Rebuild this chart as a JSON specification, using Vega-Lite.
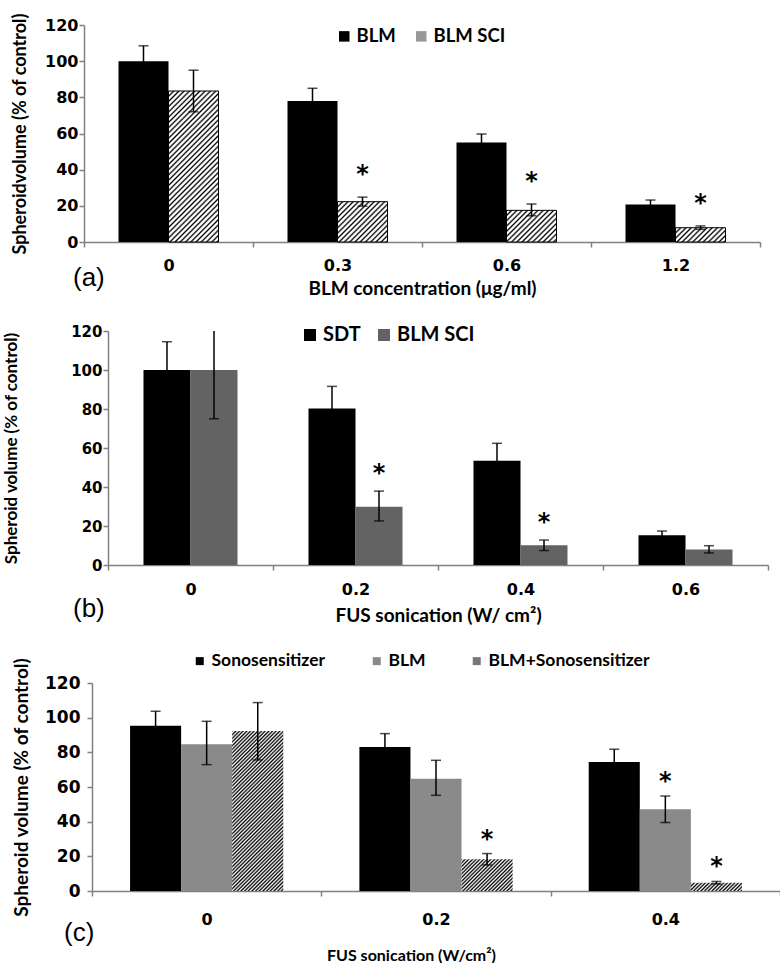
{
  "$schema": "https://vega.github.io/schema/vega-lite/v6.json",
  "padding": {"left": 2, "top": 11, "right": 0, "bottom": 0},
  "columns": 1,
  "align": "each",
  "spacing": -6,
  "resolve": {"scale": {"x": "independent", "y": "independent", "xOffset": "independent", "fill": "independent"}, "legend": {"fill": "independent"}, "axis": {"x": "independent", "y": "independent"}},
  "params": [
    {"name": "hatchA", "value": [
      {"offset":0,"color":"#000"},{"offset":0.00875,"color":"#fff"},{"offset":0.01625,"color":"#fff"},
      {"offset":0.025,"color":"#000"},{"offset":0.03375,"color":"#fff"},{"offset":0.04125,"color":"#fff"},
      {"offset":0.05,"color":"#000"},{"offset":0.05875,"color":"#fff"},{"offset":0.06625,"color":"#fff"},
      {"offset":0.075,"color":"#000"},{"offset":0.08375,"color":"#fff"},{"offset":0.09125,"color":"#fff"},
      {"offset":0.1,"color":"#000"},{"offset":0.10875,"color":"#fff"},{"offset":0.11625,"color":"#fff"},
      {"offset":0.125,"color":"#000"},{"offset":0.13375,"color":"#fff"},{"offset":0.14125,"color":"#fff"},
      {"offset":0.15,"color":"#000"},{"offset":0.15875,"color":"#fff"},{"offset":0.16625,"color":"#fff"},
      {"offset":0.175,"color":"#000"},{"offset":0.18375,"color":"#fff"},{"offset":0.19125,"color":"#fff"},
      {"offset":0.2,"color":"#000"},{"offset":0.20875,"color":"#fff"},{"offset":0.21625,"color":"#fff"},
      {"offset":0.225,"color":"#000"},{"offset":0.23375,"color":"#fff"},{"offset":0.24125,"color":"#fff"},
      {"offset":0.25,"color":"#000"},{"offset":0.25875,"color":"#fff"},{"offset":0.26625,"color":"#fff"},
      {"offset":0.275,"color":"#000"},{"offset":0.28375,"color":"#fff"},{"offset":0.29125,"color":"#fff"},
      {"offset":0.3,"color":"#000"},{"offset":0.30875,"color":"#fff"},{"offset":0.31625,"color":"#fff"},
      {"offset":0.325,"color":"#000"},{"offset":0.33375,"color":"#fff"},{"offset":0.34125,"color":"#fff"},
      {"offset":0.35,"color":"#000"},{"offset":0.35875,"color":"#fff"},{"offset":0.36625,"color":"#fff"},
      {"offset":0.375,"color":"#000"},{"offset":0.38375,"color":"#fff"},{"offset":0.39125,"color":"#fff"},
      {"offset":0.4,"color":"#000"},{"offset":0.40875,"color":"#fff"},{"offset":0.41625,"color":"#fff"},
      {"offset":0.425,"color":"#000"},{"offset":0.43375,"color":"#fff"},{"offset":0.44125,"color":"#fff"},
      {"offset":0.45,"color":"#000"},{"offset":0.45875,"color":"#fff"},{"offset":0.46625,"color":"#fff"},
      {"offset":0.475,"color":"#000"},{"offset":0.48375,"color":"#fff"},{"offset":0.49125,"color":"#fff"},
      {"offset":0.5,"color":"#000"},{"offset":0.50875,"color":"#fff"},{"offset":0.51625,"color":"#fff"},
      {"offset":0.525,"color":"#000"},{"offset":0.53375,"color":"#fff"},{"offset":0.54125,"color":"#fff"},
      {"offset":0.55,"color":"#000"},{"offset":0.55875,"color":"#fff"},{"offset":0.56625,"color":"#fff"},
      {"offset":0.575,"color":"#000"},{"offset":0.58375,"color":"#fff"},{"offset":0.59125,"color":"#fff"},
      {"offset":0.6,"color":"#000"},{"offset":0.60875,"color":"#fff"},{"offset":0.61625,"color":"#fff"},
      {"offset":0.625,"color":"#000"},{"offset":0.63375,"color":"#fff"},{"offset":0.64125,"color":"#fff"},
      {"offset":0.65,"color":"#000"},{"offset":0.65875,"color":"#fff"},{"offset":0.66625,"color":"#fff"},
      {"offset":0.675,"color":"#000"},{"offset":0.68375,"color":"#fff"},{"offset":0.69125,"color":"#fff"},
      {"offset":0.7,"color":"#000"},{"offset":0.70875,"color":"#fff"},{"offset":0.71625,"color":"#fff"},
      {"offset":0.725,"color":"#000"},{"offset":0.73375,"color":"#fff"},{"offset":0.74125,"color":"#fff"},
      {"offset":0.75,"color":"#000"},{"offset":0.75875,"color":"#fff"},{"offset":0.76625,"color":"#fff"},
      {"offset":0.775,"color":"#000"},{"offset":0.78375,"color":"#fff"},{"offset":0.79125,"color":"#fff"},
      {"offset":0.8,"color":"#000"},{"offset":0.80875,"color":"#fff"},{"offset":0.81625,"color":"#fff"},
      {"offset":0.825,"color":"#000"},{"offset":0.83375,"color":"#fff"},{"offset":0.84125,"color":"#fff"},
      {"offset":0.85,"color":"#000"},{"offset":0.85875,"color":"#fff"},{"offset":0.86625,"color":"#fff"},
      {"offset":0.875,"color":"#000"},{"offset":0.88375,"color":"#fff"},{"offset":0.89125,"color":"#fff"},
      {"offset":0.9,"color":"#000"},{"offset":0.90875,"color":"#fff"},{"offset":0.91625,"color":"#fff"},
      {"offset":0.925,"color":"#000"},{"offset":0.93375,"color":"#fff"},{"offset":0.94125,"color":"#fff"},
      {"offset":0.95,"color":"#000"},{"offset":0.95875,"color":"#fff"},{"offset":0.96625,"color":"#fff"},
      {"offset":0.975,"color":"#000"},{"offset":0.98375,"color":"#fff"},{"offset":0.99125,"color":"#fff"},
      {"offset":1,"color":"#000"}
    ]},
    {"name": "hatchC", "value": [
      {"offset":0,"color":"#000"},{"offset":0.00833,"color":"#fff"},{"offset":0.01667,"color":"#000"},{"offset":0.025,"color":"#fff"},{"offset":0.03333,"color":"#000"},{"offset":0.04167,"color":"#fff"},
      {"offset":0.05,"color":"#000"},{"offset":0.05833,"color":"#fff"},{"offset":0.06667,"color":"#000"},{"offset":0.075,"color":"#fff"},{"offset":0.08333,"color":"#000"},{"offset":0.09167,"color":"#fff"},
      {"offset":0.1,"color":"#000"},{"offset":0.10833,"color":"#fff"},{"offset":0.11667,"color":"#000"},{"offset":0.125,"color":"#fff"},{"offset":0.13333,"color":"#000"},{"offset":0.14167,"color":"#fff"},
      {"offset":0.15,"color":"#000"},{"offset":0.15833,"color":"#fff"},{"offset":0.16667,"color":"#000"},{"offset":0.175,"color":"#fff"},{"offset":0.18333,"color":"#000"},{"offset":0.19167,"color":"#fff"},
      {"offset":0.2,"color":"#000"},{"offset":0.20833,"color":"#fff"},{"offset":0.21667,"color":"#000"},{"offset":0.225,"color":"#fff"},{"offset":0.23333,"color":"#000"},{"offset":0.24167,"color":"#fff"},
      {"offset":0.25,"color":"#000"},{"offset":0.25833,"color":"#fff"},{"offset":0.26667,"color":"#000"},{"offset":0.275,"color":"#fff"},{"offset":0.28333,"color":"#000"},{"offset":0.29167,"color":"#fff"},
      {"offset":0.3,"color":"#000"},{"offset":0.30833,"color":"#fff"},{"offset":0.31667,"color":"#000"},{"offset":0.325,"color":"#fff"},{"offset":0.33333,"color":"#000"},{"offset":0.34167,"color":"#fff"},
      {"offset":0.35,"color":"#000"},{"offset":0.35833,"color":"#fff"},{"offset":0.36667,"color":"#000"},{"offset":0.375,"color":"#fff"},{"offset":0.38333,"color":"#000"},{"offset":0.39167,"color":"#fff"},
      {"offset":0.4,"color":"#000"},{"offset":0.40833,"color":"#fff"},{"offset":0.41667,"color":"#000"},{"offset":0.425,"color":"#fff"},{"offset":0.43333,"color":"#000"},{"offset":0.44167,"color":"#fff"},
      {"offset":0.45,"color":"#000"},{"offset":0.45833,"color":"#fff"},{"offset":0.46667,"color":"#000"},{"offset":0.475,"color":"#fff"},{"offset":0.48333,"color":"#000"},{"offset":0.49167,"color":"#fff"},
      {"offset":0.5,"color":"#000"},{"offset":0.50833,"color":"#fff"},{"offset":0.51667,"color":"#000"},{"offset":0.525,"color":"#fff"},{"offset":0.53333,"color":"#000"},{"offset":0.54167,"color":"#fff"},
      {"offset":0.55,"color":"#000"},{"offset":0.55833,"color":"#fff"},{"offset":0.56667,"color":"#000"},{"offset":0.575,"color":"#fff"},{"offset":0.58333,"color":"#000"},{"offset":0.59167,"color":"#fff"},
      {"offset":0.6,"color":"#000"},{"offset":0.60833,"color":"#fff"},{"offset":0.61667,"color":"#000"},{"offset":0.625,"color":"#fff"},{"offset":0.63333,"color":"#000"},{"offset":0.64167,"color":"#fff"},
      {"offset":0.65,"color":"#000"},{"offset":0.65833,"color":"#fff"},{"offset":0.66667,"color":"#000"},{"offset":0.675,"color":"#fff"},{"offset":0.68333,"color":"#000"},{"offset":0.69167,"color":"#fff"},
      {"offset":0.7,"color":"#000"},{"offset":0.70833,"color":"#fff"},{"offset":0.71667,"color":"#000"},{"offset":0.725,"color":"#fff"},{"offset":0.73333,"color":"#000"},{"offset":0.74167,"color":"#fff"},
      {"offset":0.75,"color":"#000"},{"offset":0.75833,"color":"#fff"},{"offset":0.76667,"color":"#000"},{"offset":0.775,"color":"#fff"},{"offset":0.78333,"color":"#000"},{"offset":0.79167,"color":"#fff"},
      {"offset":0.8,"color":"#000"},{"offset":0.80833,"color":"#fff"},{"offset":0.81667,"color":"#000"},{"offset":0.825,"color":"#fff"},{"offset":0.83333,"color":"#000"},{"offset":0.84167,"color":"#fff"},
      {"offset":0.85,"color":"#000"},{"offset":0.85833,"color":"#fff"},{"offset":0.86667,"color":"#000"},{"offset":0.875,"color":"#fff"},{"offset":0.88333,"color":"#000"},{"offset":0.89167,"color":"#fff"},
      {"offset":0.9,"color":"#000"},{"offset":0.90833,"color":"#fff"},{"offset":0.91667,"color":"#000"},{"offset":0.925,"color":"#fff"},{"offset":0.93333,"color":"#000"},{"offset":0.94167,"color":"#fff"},
      {"offset":0.95,"color":"#000"},{"offset":0.95833,"color":"#fff"},{"offset":0.96667,"color":"#000"},{"offset":0.975,"color":"#fff"},{"offset":0.98333,"color":"#000"},{"offset":0.99167,"color":"#fff"},
      {"offset":1,"color":"#000"}
    ]},
    {"name": "legA", "value": [{"offset":0,"color":"#000"},{"offset":0.12,"color":"#fff"},{"offset":0.21,"color":"#fff"},{"offset":0.333,"color":"#000"},{"offset":0.45,"color":"#fff"},{"offset":0.55,"color":"#fff"},{"offset":0.667,"color":"#000"},{"offset":0.79,"color":"#fff"},{"offset":0.88,"color":"#fff"},{"offset":1,"color":"#000"}]},
    {"name": "legC", "value": [{"offset":0,"color":"#000"},{"offset":0.167,"color":"#fff"},{"offset":0.333,"color":"#000"},{"offset":0.5,"color":"#fff"},{"offset":0.667,"color":"#000"},{"offset":0.833,"color":"#fff"},{"offset":1,"color":"#000"}]}
  ],
  "datasets": {
    "panelA": [
      {"cat":"0","s":"BLM","v":100,"lo":91.5,"hi":108.5,"star":""},
      {"cat":"0","s":"BLM SCI","v":83.5,"lo":72,"hi":95,"star":""},
      {"cat":"0.3","s":"BLM","v":78,"lo":71,"hi":85,"star":""},
      {"cat":"0.3","s":"BLM SCI","v":22.3,"lo":19.8,"hi":24.8,"star":"*"},
      {"cat":"0.6","s":"BLM","v":55,"lo":50.4,"hi":59.7,"star":""},
      {"cat":"0.6","s":"BLM SCI","v":17.5,"lo":14.5,"hi":21,"star":"*"},
      {"cat":"1.2","s":"BLM","v":20.8,"lo":18.4,"hi":23.2,"star":""},
      {"cat":"1.2","s":"BLM SCI","v":7.9,"lo":7,"hi":8.9,"star":"*"}
    ],
    "panelB": [
      {"cat":"0","s":"SDT","v":100,"lo":85.5,"hi":114.5,"star":""},
      {"cat":"0","s":"BLM SCI","v":100,"lo":75,"hi":125,"star":""},
      {"cat":"0.2","s":"SDT","v":80.2,"lo":68.8,"hi":91.6,"star":""},
      {"cat":"0.2","s":"BLM SCI","v":29.9,"lo":22.6,"hi":37.9,"star":"*"},
      {"cat":"0.4","s":"SDT","v":53.5,"lo":44.6,"hi":62.4,"star":""},
      {"cat":"0.4","s":"BLM SCI","v":10.1,"lo":7.4,"hi":12.8,"star":"*"},
      {"cat":"0.6","s":"SDT","v":15.2,"lo":13,"hi":17.4,"star":""},
      {"cat":"0.6","s":"BLM SCI","v":8,"lo":6.2,"hi":9.9,"star":""}
    ],
    "panelC": [
      {"cat":"0","s":"Sonosensitizer","v":95.4,"lo":87.1,"hi":103.7,"star":""},
      {"cat":"0","s":"BLM","v":84.6,"lo":72.9,"hi":97.9,"star":""},
      {"cat":"0","s":"BLM+Sonosensitizer","v":92.3,"lo":75.6,"hi":108.7,"star":""},
      {"cat":"0.2","s":"Sonosensitizer","v":83.1,"lo":75.4,"hi":90.8,"star":""},
      {"cat":"0.2","s":"BLM","v":64.8,"lo":55.2,"hi":75.4,"star":""},
      {"cat":"0.2","s":"BLM+Sonosensitizer","v":18.3,"lo":15,"hi":21.6,"star":"*"},
      {"cat":"0.4","s":"Sonosensitizer","v":74.4,"lo":67,"hi":81.8,"star":""},
      {"cat":"0.4","s":"BLM","v":47.1,"lo":39.5,"hi":54.8,"star":"*"},
      {"cat":"0.4","s":"BLM+Sonosensitizer","v":4.8,"lo":4.1,"hi":5.5,"star":"*"}
    ]
  },
  "config": {
    "view": {"stroke": null},
    "axis": {
      "domainColor": "#808080", "domainWidth": 1.5, "tickColor": "#808080", "tickWidth": 1.5, "tickSize": 5,
      "labelFont": "DejaVu Sans", "labelFontWeight": "bold", "labelFontSize": 16, "labelColor": "#000", "labelOverlap": false,
      "titleFont": "Lato", "titleFontWeight": "bold", "titleColor": "#000", "grid": false
    },
    "legend": {"labelFont": "Lato", "labelFontWeight": "bold", "labelFontSize": 18.5, "labelColor": "#000", "title": null, "labelLimit": 400},
    "title": {"font": "Liberation Sans", "fontWeight": "normal", "fontSize": 26, "color": "#000"}
  },
  "concat": [
    {
      "width": 676, "height": 217,
      "data": {"name": "panelA"},
      "title": {"text": "(a)", "orient": "bottom", "anchor": "start", "frame": "group", "dx": -11, "dy": -26, "offset": -7},
      "encoding": {
        "x": {"field": "cat", "type": "nominal", "sort": ["0","0.3","0.6","1.2"], "scale": {"paddingInner": 0, "paddingOuter": 0},
              "axis": {"title": "BLM concentration (μg/ml)", "labelAngle": 0, "tickBand": "extent", "labelPadding": 10, "titlePadding": 6, "titleFontSize": 19}},
        "xOffset": {"field": "s", "type": "nominal", "sort": ["BLM","BLM SCI"], "scale": {"paddingInner": 0, "paddingOuter": 0.69}}
      },
      "layer": [
        {
          "mark": {"type": "bar", "strokeWidth": 1},
          "encoding": {
            "y": {"field": "v", "type": "quantitative", "title": "Spheroidvolume (% of control)", "scale": {"domain": [0,120], "nice": false},
                  "axis": {"values": [0,20,40,60,80,100,120], "titleFontSize": 18, "titlePadding": 15, "labelPadding": 1}},
            "fill": {
              "field": "s", "type": "nominal",
              "scale": {"domain": ["BLM","BLM SCI"], "range": ["#000000", "#999999"]},
              "legend": {"orient": "none", "legendX": 251, "legendY": 2, "direction": "horizontal", "symbolType": "square", "symbolSize": 110, "columnPadding": 16, "labelOffset": 3, "symbolStrokeColor": "#000", "symbolStrokeWidth": 1,
                         "encode": {"symbols": {"update": {"fill": {"signal": "datum.value === 'BLM SCI' ? {gradient:'linear',x1:0,y1:0,x2:1,y2:1,stops:legA} : '#000'"}}}}},
              "condition": {"test": "datum.s === 'BLM SCI'", "value": {"expr": "{gradient:'linear',x1:0,y1:0,x2:210*50/(2500+pow(datum.v*1.808,2)),y2:210*1.808*datum.v/(2500+pow(datum.v*1.808,2)),stops:hatchA}"}}
            },
            "stroke": {"condition": {"test": "datum.s === 'BLM SCI'", "value": "#000"}, "value": null}
          }
        },
        {
          "mark": {"type": "rule", "color": "#000", "strokeWidth": 1.5, "clip": true},
          "encoding": {"y": {"field": "lo", "type": "quantitative", "title": "Spheroidvolume (% of control)", "axis": {"values": [0,20,40,60,80,100,120], "titleFontSize": 18, "titlePadding": 15, "labelPadding": 1}}, "y2": {"field": "hi"}}
        },
        {
          "mark": {"type": "tick", "color": "#000", "thickness": 1.5, "size": 10, "orient": "horizontal", "clip": true},
          "encoding": {"y": {"field": "hi", "type": "quantitative", "title": "Spheroidvolume (% of control)", "axis": {"values": [0,20,40,60,80,100,120], "titleFontSize": 18, "titlePadding": 15, "labelPadding": 1}}}
        },
        {
          "mark": {"type": "tick", "color": "#000", "thickness": 1.5, "size": 10, "orient": "horizontal", "clip": true},
          "encoding": {"y": {"field": "lo", "type": "quantitative", "title": "Spheroidvolume (% of control)", "axis": {"values": [0,20,40,60,80,100,120], "titleFontSize": 18, "titlePadding": 15, "labelPadding": 1}}}
        },
        {
          "mark": {"type": "text", "font": "DejaVu Sans", "fontWeight": "bold", "fontSize": 24, "baseline": "alphabetic", "dy": -15, "color": "#000"},
          "encoding": {"y": {"field": "hi", "type": "quantitative", "title": "Spheroidvolume (% of control)", "axis": {"values": [0,20,40,60,80,100,120], "titleFontSize": 18, "titlePadding": 15, "labelPadding": 1}}, "text": {"field": "star"}}
        }
      ]
    },
    {
      "width": 684, "height": 234,
      "data": {"name": "panelB"},
      "title": {"text": "(b)", "orient": "bottom", "anchor": "start", "frame": "group", "dx": -11, "dy": -56, "offset": 27},
      "encoding": {
        "x": {"field": "cat", "type": "nominal", "sort": ["0","0.2","0.4","0.6"], "scale": {"paddingInner": 0, "paddingOuter": 0, "range": [24, 684]},
              "axis": {"title": "FUS sonication (W/ cm²)", "labelAngle": 0, "tickBand": "extent", "labelPadding": 11, "titlePadding": 9, "titleFontSize": 19}},
        "xOffset": {"field": "s", "type": "nominal", "sort": ["SDT","BLM SCI"], "scale": {"paddingInner": 0, "paddingOuter": 0.755}}
      },
      "layer": [
        {
          "mark": {"type": "bar"},
          "encoding": {
            "y": {"field": "v", "type": "quantitative", "title": "Spheroid volume (% of control)", "scale": {"domain": [0,120], "nice": false},
                  "axis": {"values": [0,20,40,60,80,100,120], "offset": -24, "titleFontSize": 17, "titlePadding": 50, "labelPadding": 1, "labelFontSize": 15}},
            "fill": {
              "field": "s", "type": "nominal",
              "scale": {"domain": ["SDT","BLM SCI"], "range": ["#000000", "#636363"]},
              "legend": {"orient": "none", "legendX": 216, "legendY": -6, "direction": "horizontal", "symbolType": "square", "symbolSize": 144, "columnPadding": 13, "labelOffset": 3, "labelFontSize": 20, "symbolStrokeWidth": 0}
            }
          }
        },
        {
          "mark": {"type": "rule", "color": "#000", "strokeWidth": 1.5, "clip": true},
          "encoding": {"y": {"field": "lo", "type": "quantitative", "title": "Spheroid volume (% of control)", "axis": {"values": [0,20,40,60,80,100,120], "offset": -24, "titleFontSize": 17, "titlePadding": 50, "labelPadding": 1, "labelFontSize": 15}}, "y2": {"field": "hi"}}
        },
        {
          "mark": {"type": "tick", "color": "#000", "thickness": 1.5, "size": 10, "orient": "horizontal", "clip": true},
          "encoding": {"y": {"field": "hi", "type": "quantitative", "title": "Spheroid volume (% of control)", "axis": {"values": [0,20,40,60,80,100,120], "offset": -24, "titleFontSize": 17, "titlePadding": 50, "labelPadding": 1, "labelFontSize": 15}}}
        },
        {
          "mark": {"type": "tick", "color": "#000", "thickness": 1.5, "size": 10, "orient": "horizontal", "clip": true},
          "encoding": {"y": {"field": "lo", "type": "quantitative", "title": "Spheroid volume (% of control)", "axis": {"values": [0,20,40,60,80,100,120], "offset": -24, "titleFontSize": 17, "titlePadding": 50, "labelPadding": 1, "labelFontSize": 15}}}
        },
        {
          "mark": {"type": "text", "font": "DejaVu Sans", "fontWeight": "bold", "fontSize": 24, "baseline": "alphabetic", "dy": -10, "color": "#000"},
          "encoding": {"y": {"field": "hi", "type": "quantitative", "title": "Spheroid volume (% of control)", "axis": {"values": [0,20,40,60,80,100,120], "offset": -24, "titleFontSize": 17, "titlePadding": 50, "labelPadding": 1, "labelFontSize": 15}}, "text": {"field": "star"}}
        }
      ]
    },
    {
      "width": 696, "height": 208,
      "data": {"name": "panelC"},
      "title": {"text": "(c)", "orient": "bottom", "anchor": "start", "frame": "group", "dx": -20, "dy": -13, "offset": -30},
      "encoding": {
        "x": {"field": "cat", "type": "nominal", "sort": ["0","0.2","0.4"], "scale": {"paddingInner": 0, "paddingOuter": 0, "range": [8, 696]},
              "axis": {"title": "FUS sonication (W/cm²)", "labelAngle": 0, "tickBand": "extent", "labelPadding": 15, "titlePadding": 20, "titleFontSize": 16, "titleX": 327}},
        "xOffset": {"field": "s", "type": "nominal", "sort": ["Sonosensitizer","BLM","BLM+Sonosensitizer"], "scale": {"paddingInner": 0, "paddingOuter": 0.745}}
      },
      "layer": [
        {
          "mark": {"type": "bar"},
          "encoding": {
            "y": {"field": "v", "type": "quantitative", "title": "Spheroid volume (% of control)", "scale": {"domain": [0,120], "nice": false},
                  "axis": {"values": [0,20,40,60,80,100,120], "offset": -8, "titleFontSize": 19, "titlePadding": 13, "labelPadding": 7, "labelFontSize": 17}},
            "fill": {
              "field": "s", "type": "nominal",
              "scale": {"domain": ["Sonosensitizer","BLM","BLM+Sonosensitizer"], "range": ["#000000", "#8a8a8a", "#777777"]},
              "legend": {"orient": "none", "legendX": 74, "legendY": -64, "padding": 33, "direction": "horizontal", "symbolType": "square", "symbolSize": 64, "columnPadding": 42, "labelOffset": 3, "labelFontSize": 17.5, "symbolStrokeWidth": 0,
                         "encode": {"symbols": {"update": {"fill": {"signal": "datum.value === 'BLM+Sonosensitizer' ? {gradient:'linear',x1:0,y1:0,x2:1,y2:1,stops:legC} : datum.value === 'BLM' ? '#8a8a8a' : '#000'"}}}}},
              "condition": {"test": "datum.s === 'BLM+Sonosensitizer'", "value": {"expr": "{gradient:'linear',x1:0,y1:0,x2:220*51/(2601+pow(datum.v*1.733,2)),y2:220*1.733*datum.v/(2601+pow(datum.v*1.733,2)),stops:hatchC}"}}
            }
          }
        },
        {
          "mark": {"type": "rule", "color": "#000", "strokeWidth": 1.5, "clip": true},
          "encoding": {"y": {"field": "lo", "type": "quantitative", "title": "Spheroid volume (% of control)", "axis": {"values": [0,20,40,60,80,100,120], "offset": -8, "titleFontSize": 19, "titlePadding": 13, "labelPadding": 7, "labelFontSize": 17}}, "y2": {"field": "hi"}}
        },
        {
          "mark": {"type": "tick", "color": "#000", "thickness": 1.5, "size": 10, "orient": "horizontal", "clip": true},
          "encoding": {"y": {"field": "hi", "type": "quantitative", "title": "Spheroid volume (% of control)", "axis": {"values": [0,20,40,60,80,100,120], "offset": -8, "titleFontSize": 19, "titlePadding": 13, "labelPadding": 7, "labelFontSize": 17}}}
        },
        {
          "mark": {"type": "tick", "color": "#000", "thickness": 1.5, "size": 10, "orient": "horizontal", "clip": true},
          "encoding": {"y": {"field": "lo", "type": "quantitative", "title": "Spheroid volume (% of control)", "axis": {"values": [0,20,40,60,80,100,120], "offset": -8, "titleFontSize": 19, "titlePadding": 13, "labelPadding": 7, "labelFontSize": 17}}}
        },
        {
          "mark": {"type": "text", "font": "DejaVu Sans", "fontWeight": "bold", "fontSize": 24, "baseline": "alphabetic", "dy": -7, "color": "#000"},
          "encoding": {"y": {"field": "hi", "type": "quantitative", "title": "Spheroid volume (% of control)", "axis": {"values": [0,20,40,60,80,100,120], "offset": -8, "titleFontSize": 19, "titlePadding": 13, "labelPadding": 7, "labelFontSize": 17}}, "text": {"field": "star"}}
        }
      ]
    }
  ]
}
